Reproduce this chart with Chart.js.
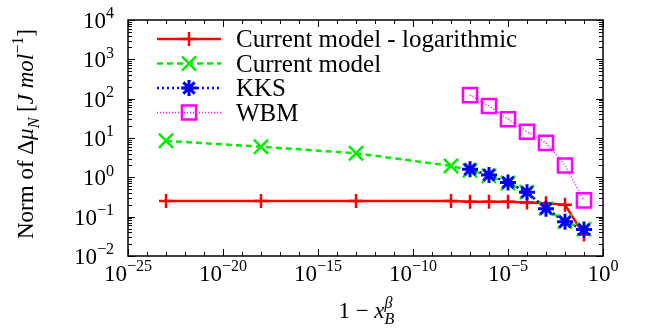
<!DOCTYPE html>
<html>
<head>
<meta charset="utf-8">
<script src="https://cdn.jsdelivr.net/npm/chart.js@4"></script>
<style>
  html, body { margin: 0; padding: 0; background: #fff; }
</style>
</head>
<body>
<canvas id="chart" width="647" height="330"></canvas>
<script>
// x values (1 - x_B^beta)
const xLog = [1e-23, 1e-18, 1e-13, 1e-8, 1e-7, 1e-6, 1e-5, 1e-4, 1e-3, 1e-2, 1e-1];
const yLog = [0.25, 0.25, 0.25, 0.25, 0.24, 0.24, 0.24, 0.23, 0.22, 0.20, 0.035];

const xCur = [1e-23, 1e-18, 1e-13, 1e-8, 1e-7, 1e-6, 1e-5, 1e-4, 1e-3, 1e-2, 1e-1];
const yCur = [8.5, 6.0, 4.1, 1.95, 1.5, 1.1, 0.72, 0.42, 0.16, 0.075, 0.048];

const xKKS = [1e-7, 1e-6, 1e-5, 1e-4, 1e-3, 1e-2, 1e-1];
const yKKS = [1.6, 1.15, 0.74, 0.42, 0.16, 0.074, 0.047];

const xWBM = [1e-7, 1e-6, 1e-5, 1e-4, 1e-3, 1e-2, 1e-1];
const yWBM = [123, 65, 30, 14.4, 7.5, 2.0, 0.26];

const xTicks = [-25, -20, -15, -10, -5, 0];
const yTicks = [-2, -1, 0, 1, 2, 3, 4];

const FONT = '"Liberation Serif", "DejaVu Serif", serif';

function pts(xs, ys) { return xs.map((x, i) => ({ x: x, y: ys[i] })); }

// draw a list of text pieces: {t, it, sup, sub}
function richWidth(ctx, parts, size) {
  let w = 0;
  parts.forEach(p => {
    const s = (p.sup || p.sub) ? size * 0.7 : size;
    ctx.font = (p.it ? 'italic ' : '') + s + 'px ' + FONT;
    if (!p.stack) w += ctx.measureText(p.t).width;
  });
  return w;
}
function drawRich(ctx, parts, x, y, size) {
  let cx = x, last = 0;
  parts.forEach(p => {
    const s = (p.sup || p.sub) ? size * 0.7 : size;
    ctx.font = (p.it ? 'italic ' : '') + s + 'px ' + FONT;
    let dy = 0;
    if (p.sup) dy = -size * 0.42;
    if (p.sub) dy = size * 0.25;
    const px = p.stack ? cx - last : cx;
    ctx.fillText(p.t, px, y + dy);
    const w = ctx.measureText(p.t).width;
    if (!p.stack) { cx += w; last = w; }
  });
}

const decor = {
  id: 'decor',
  afterDatasetsDraw(chart) {
    const ctx = chart.ctx, a = chart.chartArea;
    const xs = chart.scales.x, ys = chart.scales.y;
    ctx.save();
    ctx.strokeStyle = '#000';
    ctx.lineWidth = 1;
    // ticks, inward, all four sides
    ctx.beginPath();
    for (let k = -25; k <= 0; k++) {
      const px = Math.round(xs.getPixelForValue(Math.pow(10, k))) + 0.5;
      const len = (k % 5 === 0) ? 7 : 4;
      ctx.moveTo(px, a.bottom); ctx.lineTo(px, a.bottom - len);
      ctx.moveTo(px, a.top); ctx.lineTo(px, a.top + len);
    }
    for (let k = -2; k <= 4; k++) {
      for (let m = 1; m <= 9; m++) {
        if (k === 4 && m > 1) break;
        const py = Math.round(ys.getPixelForValue(m * Math.pow(10, k))) + 0.5;
        const len = (m === 1) ? 7 : 4;
        ctx.moveTo(a.left, py); ctx.lineTo(a.left + len, py);
        ctx.moveTo(a.right, py); ctx.lineTo(a.right - len, py);
      }
    }
    ctx.stroke();
    // frame
    ctx.lineWidth = 1.5;
    ctx.strokeRect(a.left, a.top, a.right - a.left, a.bottom - a.top);

    ctx.fillStyle = '#000';
    ctx.textBaseline = 'alphabetic';
    const fs = 23;
    // x tick labels
    xTicks.forEach(k => {
      const parts = [{ t: '10' }, { t: String(k).replace('-', '\u2212'), sup: true }];
      const w = richWidth(ctx, parts, fs);
      const px = xs.getPixelForValue(Math.pow(10, k));
      drawRich(ctx, parts, px - w / 2, a.bottom + 25, fs);
    });
    // y tick labels
    yTicks.forEach(k => {
      const parts = [{ t: '10' }, { t: String(k).replace('-', '\u2212'), sup: true }];
      const w = richWidth(ctx, parts, fs);
      const py = ys.getPixelForValue(Math.pow(10, k));
      drawRich(ctx, parts, 114 - w, py + 8, fs);
    });
    // x title
    const xt = [{ t: '1 \u2212 ' }, { t: 'x', it: true }, { t: '\u03B2', it: true, sup: true }, { t: 'B', it: true, sub: true, stack: true }];
    const xw = richWidth(ctx, xt, fs);
    drawRich(ctx, xt, (a.left + a.right) / 2 - xw / 2, 318, fs);
    // y title
    const yt = [{ t: 'Norm of \u0394' }, { t: '\u03BC', it: true }, { t: 'N', it: true, sub: true },
                { t: ' [' }, { t: 'J mol', it: true }, { t: '\u22121', sup: true }, { t: ']' }];
    const yw = richWidth(ctx, yt, fs);
    ctx.save();
    ctx.translate(33, (a.top + a.bottom) / 2 - 4);
    ctx.rotate(-Math.PI / 2);
    drawRich(ctx, yt, -yw / 2, 0, fs);
    ctx.restore();

    // legend
    const x0 = 157, x1 = 221, xm = (x0 + x1) / 2;
    chart.data.datasets.forEach((ds, i) => {
      const ly = 39 + i * 24.5;
      ctx.save();
      ctx.strokeStyle = ds.borderColor;
      ctx.lineWidth = ds.borderWidth;
      ctx.setLineDash(ds.borderDash || []);
      ctx.beginPath(); ctx.moveTo(x0, ly); ctx.lineTo(x1, ly); ctx.stroke();
      ctx.setLineDash([]);
      ctx.lineWidth = ds.pointBorderWidth;
      ctx.fillStyle = ds.pointBackgroundColor || ds.borderColor;
      Chart.helpers.drawPoint(ctx, { pointStyle: ds.pointStyle, radius: ds.pointRadius, borderWidth: ds.pointBorderWidth, rotation: 0 }, xm, ly);
      ctx.restore();
      ctx.font = '25px ' + FONT;
      ctx.fillStyle = '#000';
      ctx.fillText(ds.label, 236, ly + 8);
    });
    ctx.restore();
  }
};

new Chart(document.getElementById('chart'), {
  type: 'line',
  data: {
    datasets: [
      { label: 'Current model - logarithmic', data: pts(xLog, yLog), borderColor: '#ff0000', borderWidth: 2.5,
        pointStyle: 'cross', pointRadius: 7, pointBorderWidth: 2.5, pointBorderColor: '#ff0000', order: 4 },
      { label: 'Current model', data: pts(xCur, yCur), borderColor: '#00ee00', borderWidth: 2.5, borderDash: [6, 4],
        pointStyle: 'crossRot', pointRadius: 10, pointBorderWidth: 2.5, pointBorderColor: '#00ee00', order: 3 },
      { label: 'KKS', data: pts(xKKS, yKKS), borderColor: '#0000ff', borderWidth: 2.5, borderDash: [2, 3],
        pointStyle: 'star', pointRadius: 8, pointBorderWidth: 3, pointBorderColor: '#0000ff', order: 2 },
      { label: 'WBM', data: pts(xWBM, yWBM), borderColor: '#ff00ff', borderWidth: 1.5, borderDash: [1, 2],
        pointStyle: 'rect', pointRadius: 10, pointBorderWidth: 2.5, pointBorderColor: '#ff00ff',
        pointBackgroundColor: 'rgba(0,0,0,0)', order: 1 }
    ]
  },
  options: {
    responsive: false,
    animation: false,
    layout: { padding: { left: 128, right: 44, top: 20, bottom: 74 } },
    plugins: { legend: { display: false }, tooltip: { enabled: false } },
    elements: { line: { tension: 0, fill: false } },
    scales: {
      x: { type: 'logarithmic', min: 1e-25, max: 1, display: false },
      y: { type: 'logarithmic', min: 1e-2, max: 1e4, display: false }
    }
  },
  plugins: [decor]
});
</script>
</body>
</html>
